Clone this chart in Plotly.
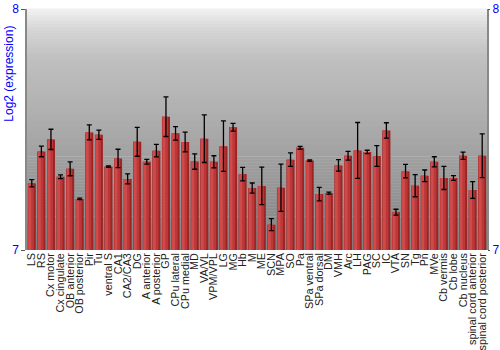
import plotly.graph_objects as go

regions = ["LS", "RS", "Cx motor", "Cx cingulate", "OB anterior", "OB posterior", "Pir", "Tu",
           "ventral S", "CA1", "CA2/CA3", "DG", "A anterior", "A posterior", "GP", "CPu lateral",
           "CPu medial", "MD", "VA/VL", "VPM/VPL", "LG", "MG", "Hb", "M", "ME", "SCN", "MPA", "SO",
           "Pa", "SPa ventral", "SPa dorsal", "DM", "VMH", "Arc", "LH", "PAG", "SC", "IC", "VTA",
           "SN", "Tg", "Pn", "MVe", "Cb vermis", "Cb lobe", "Cb nucleus", "spinal cord anterior",
           "spinal cord posterior"]

expression = [7.277, 7.409, 7.459, 7.304, 7.337, 7.212, 7.488, 7.478,
              7.346, 7.380, 7.295, 7.449, 7.366, 7.412, 7.553, 7.484,
              7.448, 7.367, 7.462, 7.366, 7.431, 7.509, 7.315, 7.257,
              7.266, 7.105, 7.258, 7.375, 7.424, 7.371, 7.232, 7.236,
              7.351, 7.391, 7.413, 7.407, 7.390, 7.496, 7.157, 7.327,
              7.267, 7.308, 7.366, 7.299, 7.299, 7.391, 7.249, 7.391]

error = [0.015, 0.022, 0.042, 0.008, 0.029, 0.003, 0.031, 0.019,
         0.003, 0.038, 0.021, 0.060, 0.010, 0.026, 0.082, 0.028,
         0.041, 0.032, 0.099, 0.025, 0.105, 0.016, 0.028, 0.021,
         0.078, 0.025, 0.098, 0.028, 0.006, 0.003, 0.028, 0.004,
         0.024, 0.018, 0.116, 0.007, 0.043, 0.032, 0.012, 0.028,
         0.046, 0.024, 0.021, 0.048, 0.010, 0.015, 0.035, 0.091]

y_range = [7, 8]

fig = go.Figure()

# bar body (darker right side)
fig.add_trace(go.Bar(x=regions, y=expression, width=0.84, offset=-0.42,
                     marker=dict(color="#9c2424", line=dict(width=0)), hoverinfo="skip"))
# main face
fig.add_trace(go.Bar(x=regions, y=expression, width=0.62, offset=-0.40,
                     marker=dict(color="#bc3838", line=dict(width=0)), hoverinfo="skip"))
# highlight
fig.add_trace(go.Bar(x=regions, y=expression, width=0.30, offset=-0.36,
                     marker=dict(color="#cf4a4a", line=dict(width=0)), hoverinfo="skip"))

# error bars
fig.add_trace(go.Scatter(x=regions, y=expression, mode="markers",
                         marker=dict(size=1, color="rgba(0,0,0,0)"),
                         error_y=dict(type="data", array=error, color="#000000",
                                      thickness=1.3, width=2.5),
                         hoverinfo="skip"))

# background gradient
stops = [(0.0, 128), (0.2, 145), (0.4, 162), (0.6, 178), (0.8, 192), (0.92, 215), (1.0, 242)]
n = 80
shapes = []
for i in range(n):
    y0 = i / n
    y1 = (i + 1) / n
    ym = (y0 + y1) / 2
    for j in range(len(stops) - 1):
        a, ca = stops[j]
        b, cb = stops[j + 1]
        if a <= ym <= b:
            c = int(round(ca + (cb - ca) * (ym - a) / (b - a)))
            break
    shapes.append(dict(type="rect", xref="paper", yref="paper", x0=0, x1=1, y0=y0, y1=y1 + 0.002,
                       fillcolor=f"rgb({c},{c},{c})", line=dict(width=0), layer="below"))

fig.update_layout(
    width=500, height=350,
    margin=dict(l=27, r=13, t=9, b=100),
    barmode="overlay",
    bargap=0.15,
    showlegend=False,
    paper_bgcolor="white",
    plot_bgcolor="rgba(0,0,0,0)",
    shapes=shapes,
    font=dict(family="Liberation Sans, Arial, sans-serif"),
    xaxis=dict(tickangle=-90, tickfont=dict(size=10.8, color="#222222"), showgrid=False,
               tickmode="array", tickvals=regions, ticktext=regions,
               showline=False, ticks="", range=[-0.5, len(regions) - 0.5], automargin=False),
    yaxis=dict(range=y_range, tickvals=y_range, ticktext=["7", "8"],
               tickfont=dict(size=12, color="#0000ff"), showgrid=False,
               showline=True, linecolor="#888888", linewidth=1.5, mirror=True,
               ticks="outside", ticklen=4, tickcolor="#555555", zeroline=False, automargin=False),
    yaxis2=dict(range=y_range, tickvals=y_range, ticktext=["7", "8"], overlaying="y", side="right",
                tickfont=dict(size=12, color="#0000ff"), showgrid=False, showline=False,
                ticks="outside", ticklen=2, tickcolor="#555555", zeroline=False, automargin=False),
    annotations=[dict(text="Log2 (expression)", textangle=-90, xref="paper", yref="paper",
                      x=-0.04, y=0.73, xanchor="center", yanchor="middle", showarrow=False,
                      font=dict(size=12, color="#0000ff"))],
)

# dummy trace to show right axis
fig.add_trace(go.Scatter(x=[regions[0]], y=[7], yaxis="y2", mode="markers",
                         marker=dict(size=1, color="rgba(0,0,0,0)"), hoverinfo="skip"))

fig.write_html("out.html")
